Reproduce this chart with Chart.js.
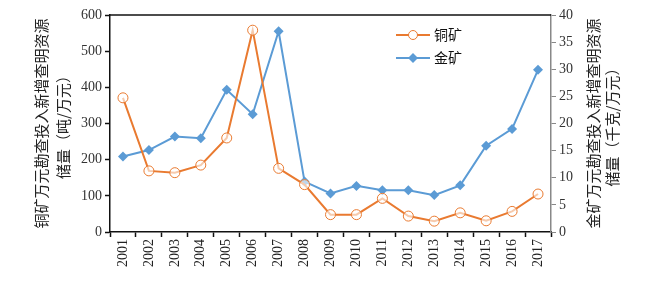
<!DOCTYPE html>
<html>
<head>
<meta charset="utf-8">
<script src="https://cdn.jsdelivr.net/npm/chart.js@4.4.1/dist/chart.umd.min.js"></script>
<style>
  html, body { margin: 0; padding: 0; background: #fff; }
  #wrap { width: 650px; height: 284px; }
</style>
</head>
<body>
<div id="wrap"><canvas id="myChart" width="650" height="284"></canvas></div>
<script>
// 연도 / 데이터
let years = ['2001', '2002', '2003', '2004', '2005', '2006', '2007', '2008', '2009',
  '2010', '2011', '2012', '2013', '2014', '2015', '2016', '2017'];
let copper = [371, 169, 164, 185, 260, 558, 176, 131, 48, 48, 93, 44, 30, 53, 31, 57, 105];
let gold = [13.9, 15.1, 17.6, 17.3, 26.2, 21.7, 37.0, 9.3, 7.1, 8.5, 7.7, 7.7, 6.8, 8.6, 15.9, 19.0, 29.9];
let leftTicks = [0, 100, 200, 300, 400, 500, 600];
let rightTicks = [0, 5, 10, 15, 20, 25, 30, 35, 40];

let copperName = '铜矿';
let goldName = '金矿';
let leftTitle = ['铜矿万元勘查投入新增查明资源', '储量（吨/万元）'];
let rightTitle = ['金矿万元勘查投入新增查明资源', '储量（千克/万元）'];

let orange = '#E97A30';
let blue = '#5B9BD5';
let cjk = '"Noto Sans CJK SC", sans-serif';
let serif = '"Liberation Serif", "DejaVu Serif", serif';

// 위쪽 테두리, 오른쪽 축 제목, 범례
let extras = {
  id: 'extras',
  afterDraw(chart) {
    let ctx = chart.ctx;
    let a = chart.chartArea;
    ctx.save();
    ctx.strokeStyle = '#111';
    ctx.lineWidth = 1.5;
    ctx.beginPath();
    ctx.moveTo(a.left, a.top);
    ctx.lineTo(a.right, a.top);
    ctx.stroke();

    // 오른쪽 제목 (아래에서 위로)
    let cy = (a.top + a.bottom) / 2;
    ctx.fillStyle = '#222';
    ctx.font = '15px ' + cjk;
    ctx.textAlign = 'center';
    ctx.textBaseline = 'middle';
    rightTitle.forEach((t, i) => {
      ctx.save();
      ctx.translate(a.right + 42 + i * 19, cy);
      ctx.rotate(-Math.PI / 2);
      ctx.fillText(t, 0, 0);
      ctx.restore();
    });

    // 범례
    let lx = a.left + 286;
    let ly = a.top + 20;
    chart.data.datasets.forEach((ds, i) => {
      let y = ly + i * 23;
      ctx.strokeStyle = ds.borderColor;
      ctx.lineWidth = 2;
      ctx.beginPath();
      ctx.moveTo(lx, y);
      ctx.lineTo(lx + 34, y);
      ctx.stroke();
      let mx = lx + 17;
      if (ds.pointStyle === 'circle') {
        ctx.fillStyle = '#fff';
        ctx.lineWidth = 1;
        ctx.beginPath();
        ctx.arc(mx, y, 4.5, 0, Math.PI * 2);
        ctx.fill();
        ctx.stroke();
      } else {
        ctx.fillStyle = ds.pointBackgroundColor;
        ctx.beginPath();
        ctx.moveTo(mx, y - 5);
        ctx.lineTo(mx + 5, y);
        ctx.lineTo(mx, y + 5);
        ctx.lineTo(mx - 5, y);
        ctx.closePath();
        ctx.fill();
      }
      ctx.fillStyle = '#111';
      ctx.font = '14px ' + cjk;
      ctx.textAlign = 'left';
      ctx.fillText(ds.label, lx + 38, y);
    });
    ctx.restore();
  }
};

let myChart = new Chart(document.getElementById('myChart').getContext('2d'), {
  type: 'line',
  data: {
    labels: years,
    datasets: [
      {
        label: copperName,
        data: copper,
        yAxisID: 'y',
        borderColor: orange,
        borderWidth: 2,
        pointStyle: 'circle',
        pointRadius: 5,
        pointBorderWidth: 1,
        pointBackgroundColor: 'rgba(255,255,255,0.6)',
        pointBorderColor: orange,
        tension: 0
      },
      {
        label: goldName,
        data: gold,
        yAxisID: 'y1',
        borderColor: blue,
        borderWidth: 2,
        pointStyle: 'rectRot',
        pointRadius: 5,
        pointBorderWidth: 0,
        pointBackgroundColor: blue,
        pointBorderColor: blue,
        tension: 0
      }
    ]
  },
  options: {
    responsive: false,
    animation: false,
    layout: { padding: { left: 26, right: 74, top: 15, bottom: 15 } },
    plugins: {
      legend: { display: false },
      tooltip: { enabled: false }
    },
    scales: {
      x: {
        offset: true,
        grid: { offset: true, drawOnChartArea: false, tickLength: 5, color: '#111', tickWidth: 1.5 },
        border: { color: '#111', width: 1.5 },
        ticks: { minRotation: 90, maxRotation: 90, color: '#222', font: { family: serif, size: 14 }, padding: 2 }
      },
      y: {
        position: 'left',
        min: 0,
        max: 600,
        afterBuildTicks: (s) => { s.ticks = leftTicks.map(v => ({ value: v })); },
        grid: { drawOnChartArea: false, tickLength: 5, color: '#111', tickWidth: 1.5 },
        border: { color: '#111', width: 1.5 },
        ticks: { color: '#333', font: { family: serif, size: 14 }, padding: 3 },
        title: { display: true, text: leftTitle, color: '#222', font: { family: cjk, size: 15, lineHeight: 1.5 }, padding: { top: 4, bottom: 3 } }
      },
      y1: {
        position: 'right',
        min: 0,
        max: 40,
        afterBuildTicks: (s) => { s.ticks = rightTicks.map(v => ({ value: v })); },
        grid: { drawOnChartArea: false, tickLength: 5, color: '#888' },
        border: { color: '#888', width: 1.5 },
        ticks: { color: '#333', font: { family: serif, size: 14 }, padding: 3 }
      }
    }
  },
  plugins: [extras]
});
</script>
</body>
</html>
